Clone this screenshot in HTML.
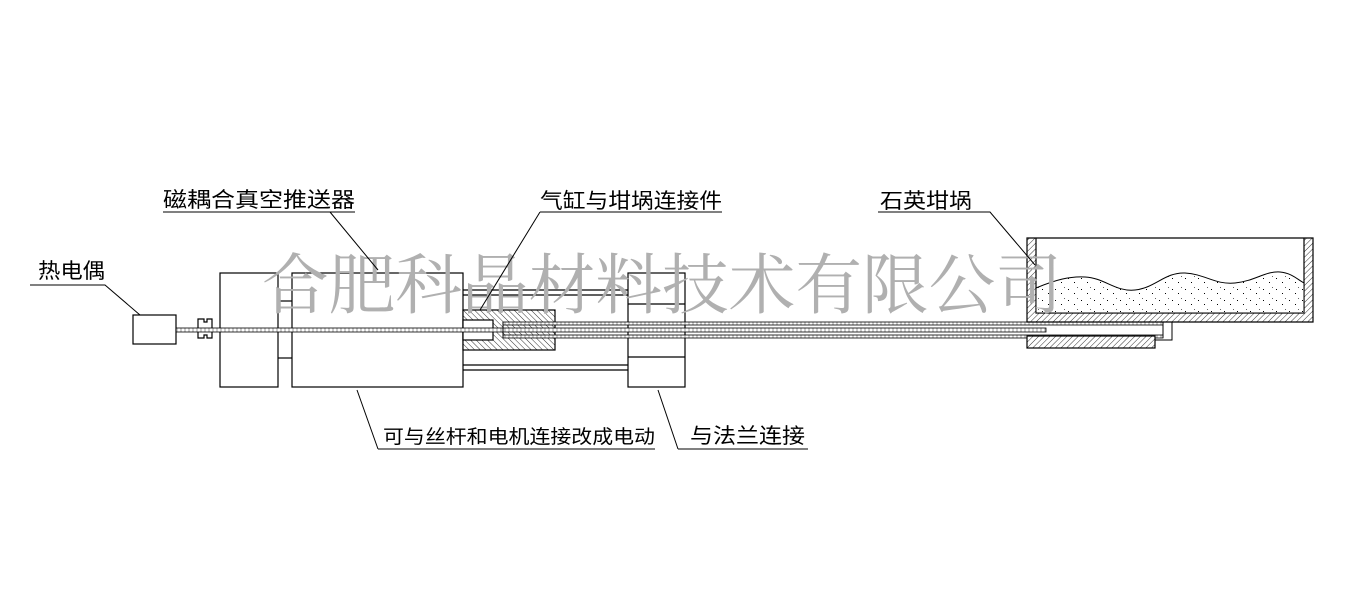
<!DOCTYPE html>
<html><head><meta charset="utf-8"><style>
html,body{margin:0;padding:0;background:#fff;}
svg text{font-family:"Liberation Sans","Noto Sans CJK SC",sans-serif;}
</style></head><body>
<svg width="1348" height="589" viewBox="0 0 1348 589" xmlns="http://www.w3.org/2000/svg">
<defs>
<pattern id="h" width="4" height="4" patternUnits="userSpaceOnUse" patternTransform="rotate(45)">
<rect width="4" height="4" fill="#fff"/><line x1="0" y1="0" x2="0" y2="4" stroke="#000" stroke-width="0.8"/></pattern>
<pattern id="hr" width="4" height="4" patternUnits="userSpaceOnUse" patternTransform="rotate(-45)">
<rect width="4" height="4" fill="#fff"/><line x1="0" y1="0" x2="0" y2="4" stroke="#000" stroke-width="0.8"/></pattern>
<pattern id="t" width="4" height="3" patternUnits="userSpaceOnUse">
<rect width="4" height="3" fill="#fff"/><line x1="1" y1="0" x2="1" y2="3" stroke="#555" stroke-width="0.6"/></pattern>
<pattern id="sand" width="13" height="11" patternUnits="userSpaceOnUse">
<rect width="13" height="11" fill="#fff"/><rect x="2" y="3" width="1" height="1" fill="#000"/><rect x="8" y="7" width="1" height="1" fill="#000"/><rect x="11" y="1" width="1" height="1" fill="#666"/></pattern>
</defs>
<g fill="none" stroke="#000" stroke-width="1.2">
<rect x="133" y="315" width="43" height="29"/>
<path d="M198,319 h6 v3 h3 v-3 h5 v19 h-5 v-3 h-3 v3 h-6 z"/>
<rect x="220" y="273" width="58" height="114"/>
<rect x="292" y="273" width="171" height="114"/>
<line x1="278" y1="301" x2="292" y2="301"/>
<line x1="278" y1="358" x2="292" y2="358"/>
<line x1="463" y1="290" x2="628" y2="290"/><line x1="463" y1="295" x2="628" y2="295"/>
<line x1="463" y1="365" x2="628" y2="365"/><line x1="463" y1="370" x2="628" y2="370"/>
<rect x="628" y="273" width="57" height="114"/>
<line x1="628" y1="304" x2="685" y2="304"/>
<line x1="628" y1="357" x2="685" y2="357"/>
</g>
<rect x="463" y="310" width="92" height="40" fill="url(#hr)" stroke="#000" stroke-width="1.2"/>
<rect x="463" y="320" width="30" height="20" fill="#fff" stroke="#000" stroke-width="1.2"/>
<rect x="176" y="328" width="870" height="4" fill="url(#t)" stroke="#000" stroke-width="0.8"/>
<rect x="503" y="322" width="660" height="3" fill="url(#t)" stroke="#000" stroke-width="0.8"/>
<rect x="503" y="335" width="660" height="3" fill="url(#t)" stroke="#000" stroke-width="0.8"/>
<line x1="503" y1="322" x2="503" y2="338" stroke="#000"/>
<path d="M1030,320 H1172 V340 H1046" fill="none" stroke="#000" stroke-width="1"/>
<line x1="1163" y1="322" x2="1163" y2="338" stroke="#000"/>
<path d="M1027,238 H1313 V322 H1027 Z M1036,238 V313 H1304 V238 Z" fill="url(#h)" fill-rule="evenodd" stroke="#000" stroke-width="1.2"/>
<path d="M1036,288 C1055,280 1070,276 1085,277 C1105,278 1115,292 1135,290 C1155,288 1165,272 1185,273 C1205,274 1215,285 1235,283 C1255,281 1265,271 1280,272 C1292,273 1298,280 1304,283 V313 H1036 Z" fill="url(#sand)" stroke="#000" stroke-width="1"/>
<rect x="1027" y="336" width="128" height="12" fill="url(#h)" stroke="#000" stroke-width="1.2"/>
<text x="262" y="308" font-size="66" fill="#b0b0b0" style="font-family:'Noto Serif CJK SC',serif" textLength="800" lengthAdjust="spacingAndGlyphs">合肥科晶材料技术有限公司</text>
<g font-size="21" fill="#000" lengthAdjust="spacingAndGlyphs">
<text x="38" y="278" textLength="67" lengthAdjust="spacingAndGlyphs">热电偶</text>
<text x="163" y="207" textLength="192" lengthAdjust="spacingAndGlyphs">磁耦合真空推送器</text>
<text x="540" y="208" textLength="182" lengthAdjust="spacingAndGlyphs">气缸与坩埚连接件</text>
<text x="880" y="208" textLength="92" lengthAdjust="spacingAndGlyphs">石英坩埚</text>
<text x="383" y="443" font-size="19" textLength="272" lengthAdjust="spacingAndGlyphs">可与丝杆和电机连接改成电动</text>
<text x="690" y="443" textLength="115" lengthAdjust="spacingAndGlyphs">与法兰连接</text>
</g>
<g stroke="#000" stroke-width="1" fill="none">
<path d="M30,285 H105 L140,315"/>
<path d="M163,212 H355"/><line x1="330" y1="212" x2="378" y2="270"/>
<path d="M540,212 H722"/><line x1="540" y1="212" x2="480" y2="310"/>
<path d="M878,212 H990 L1035,265"/>
<path d="M378,449 H655"/><line x1="357" y1="390" x2="378" y2="449"/>
<path d="M678,449 H808"/><line x1="658" y1="390" x2="678" y2="449"/>
</g>
</svg>
</body></html>
